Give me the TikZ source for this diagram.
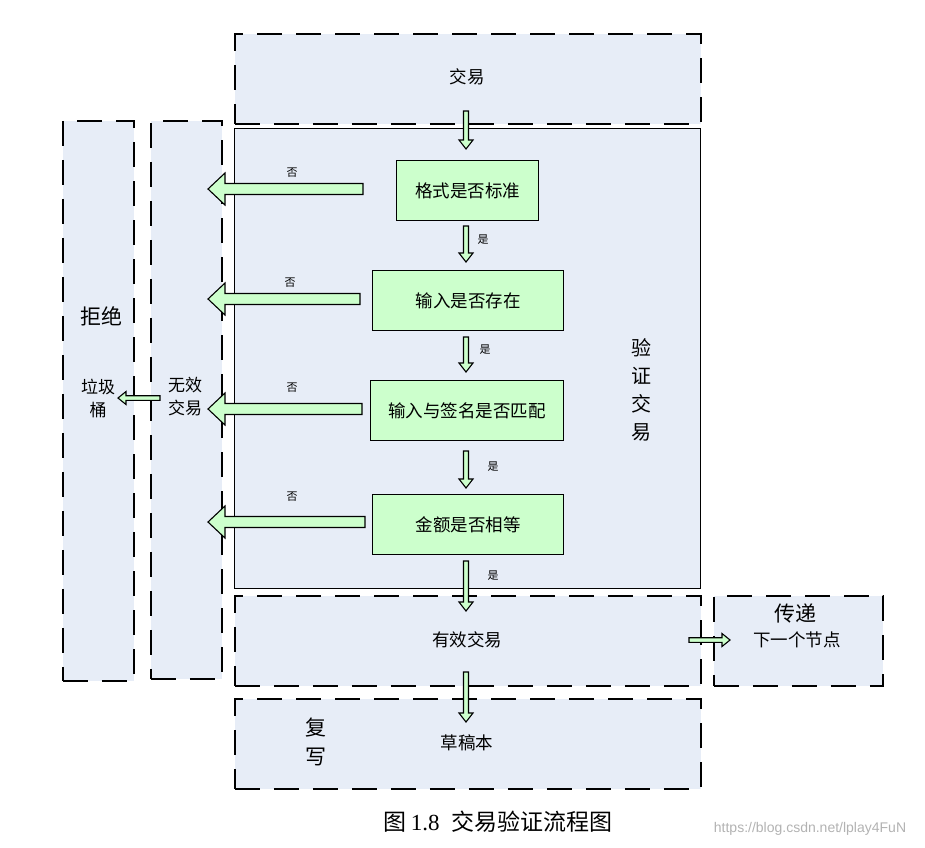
\documentclass[tikz,border=0pt]{standalone}
\usepackage{fontspec}
\setmainfont{Liberation Serif}
\newfontfamily\cjk{Noto Sans CJK SC}
\newfontfamily\wmfont{Liberation Sans}
\usetikzlibrary{calc}
\definecolor{bgblue}{HTML}{E7EDF7}
\definecolor{lgreen}{HTML}{CCFFCC}
\newcommand\fs[1]{\fontsize{#1}{#1}\selectfont}
\newcommand\fsb[2]{\fontsize{#1}{#2}\selectfont}
% vertical (downward) block arrow from #1 to #2
\newcommand\darr[2]{\draw[blockarrow] let \p1=(#1),\p2=(#2) in
  (\x1-2.5pt,\y1) -- (\x1-2.5pt,\y2+9pt) -- (\x1-7pt,\y2+9pt) -- (\x1,\y2)
  -- (\x1+7pt,\y2+9pt) -- (\x1+2.5pt,\y2+9pt) -- (\x1+2.5pt,\y1) -- cycle;}
% horizontal block arrow: from, to, shaft half, head half, signed head length
\newcommand\harr[5]{\draw[blockarrow] let \p1=(#1),\p2=(#2) in
  (\x1,\y1-#3) -- (\x2+#5,\y1-#3) -- (\x2+#5,\y1-#4) -- (\x2,\y1)
  -- (\x2+#5,\y1+#4) -- (\x2+#5,\y1+#3) -- (\x1,\y1+#3) -- cycle;}
\tikzset{
  region/.style={draw, fill=bgblue, line width=1.6pt, dash pattern=on 25pt off 14pt,
    inner sep=0pt, anchor=north west},
  solidregion/.style={draw, fill=bgblue, line width=1.4pt, inner sep=0pt, anchor=north west},
  testbox/.style={draw, fill=lgreen, line width=1.4pt, inner sep=0pt, anchor=north west},
  blockarrow/.style={draw, fill=lgreen, line width=1.1pt, line join=miter},
  txt/.style={font=\cjk\fs{17.5}, inner sep=0pt, text=black},
  bigtxt/.style={font=\cjk\fs{21}, inner sep=0pt, text=black},
  small/.style={font=\cjk\fs{11}, inner sep=0pt, text=black},
}
\begin{document}
\begin{tikzpicture}[x=1pt,y=-1pt]
\useasboundingbox (0,0) rectangle (925,847);
% regions
\node[region, minimum width=71, minimum height=560] (reject) at (62,120) {};
\node[region, minimum width=71, minimum height=558] (invalid) at (150,120) {};
\node[region, minimum width=466, minimum height=90] (tx) at (234,33) {};
\node[solidregion, minimum width=466, minimum height=460] (verify) at (234,128) {};
\node[region, minimum width=466, minimum height=90] (valid) at (234,595) {};
\node[region, minimum width=169, minimum height=90] (pass) at (713,595) {};
\node[region, minimum width=466, minimum height=90] (copy) at (234,698) {};
% tests
\node[testbox, minimum width=142, minimum height=60] (fmt) at (396,160) {};
\node[testbox, minimum width=191, minimum height=60] (inp) at (372,270) {};
\node[testbox, minimum width=193, minimum height=60] (sig) at (370,380) {};
\node[testbox, minimum width=191, minimum height=60] (amt) at (372,494) {};
\node[txt] (fmtT) at (fmt.center) {格式是否标准};
\node[txt] (inpT) at (inp.center) {输入是否存在};
\node[txt] (sigT) at (sig.center) {输入与签名是否匹配};
\node[txt] (amtT) at (amt.center) {金额是否相等};
% arrow end points
\coordinate (d1a) at (466,111); \coordinate (d1b) at (466,149);
\coordinate (d2a) at (466,226); \coordinate (d2b) at (466,262);
\coordinate (d3a) at (466,337); \coordinate (d3b) at (466,372);
\coordinate (d4a) at (466,451); \coordinate (d4b) at (466,488);
\coordinate (d5a) at (466,561); \coordinate (d5b) at (466,611);
\coordinate (d6a) at (466,672); \coordinate (d6b) at (466,722);
\coordinate (l1a) at (363,189); \coordinate (l1b) at (208,189);
\coordinate (l2a) at (360,299); \coordinate (l2b) at (208,299);
\coordinate (l3a) at (362,409); \coordinate (l3b) at (208,409);
\coordinate (l4a) at (365,522); \coordinate (l4b) at (208,522);
\coordinate (ga) at (160,398); \coordinate (gb) at (118,398);
\coordinate (ra) at (689,640); \coordinate (rb) at (730,640);
\darr{d1a}{d1b}\darr{d2a}{d2b}\darr{d3a}{d3b}
\darr{d4a}{d4b}\darr{d5a}{d5b}\darr{d6a}{d6b}
\harr{l1a}{l1b}{5.5pt}{16pt}{17pt}
\harr{l2a}{l2b}{5.5pt}{16pt}{17pt}
\harr{l3a}{l3b}{5.5pt}{16pt}{17pt}
\harr{l4a}{l4b}{5.5pt}{16pt}{17pt}
\harr{ga}{gb}{2.3pt}{6.5pt}{8pt}
\harr{ra}{rb}{2.3pt}{6.5pt}{-8pt}
% labels
\node[small] (n1) at (292,173) {否};
\node[small] (n2) at (290,283) {否};
\node[small] (n3) at (292,388) {否};
\node[small] (n4) at (292,497) {否};
\node[small] (y1) at (483,240) {是};
\node[small] (y2) at (485,350) {是};
\node[small] (y3) at (493,467) {是};
\node[small] (y4) at (493,576) {是};
% texts
\node[txt] (txT) at (467,77) {交易};
\node[txt] (validT) at (467,640) {有效交易};
\node[txt] (copyT) at (467,743) {草稿本};
\node[bigtxt, align=center, font=\cjk\fsb{21}{29}] (copyL) at (316,742) {复\\写};
\node[bigtxt] (passL) at (795,613) {传递};
\node[txt] (passT) at (797,640) {下一个节点};
\node[bigtxt] (rejL) at (101,316) {拒绝};
\node[txt, align=center, font=\cjk\fsb{17}{23}] (binT) at (98,398) {垃圾\\桶};
\node[txt, align=center, font=\cjk\fsb{17}{23}] (invT) at (185,397) {无效\\交易};
\node[bigtxt, align=center, font=\cjk\fsb{20}{28}] (verT) at (641,390) {验\\证\\交\\易};
% caption
\node[inner sep=0pt, font=\fs{23}] (cap) at (498,822) {{\cjk 图}\,1.8\ \ {\cjk 交易验证流程图}};
\node[inner sep=0pt, font=\wmfont\fs{14}, text=black!30] (wm) at (810,829) {https://blog.csdn.net/lplay4FuN};
\end{tikzpicture}
\end{document}
